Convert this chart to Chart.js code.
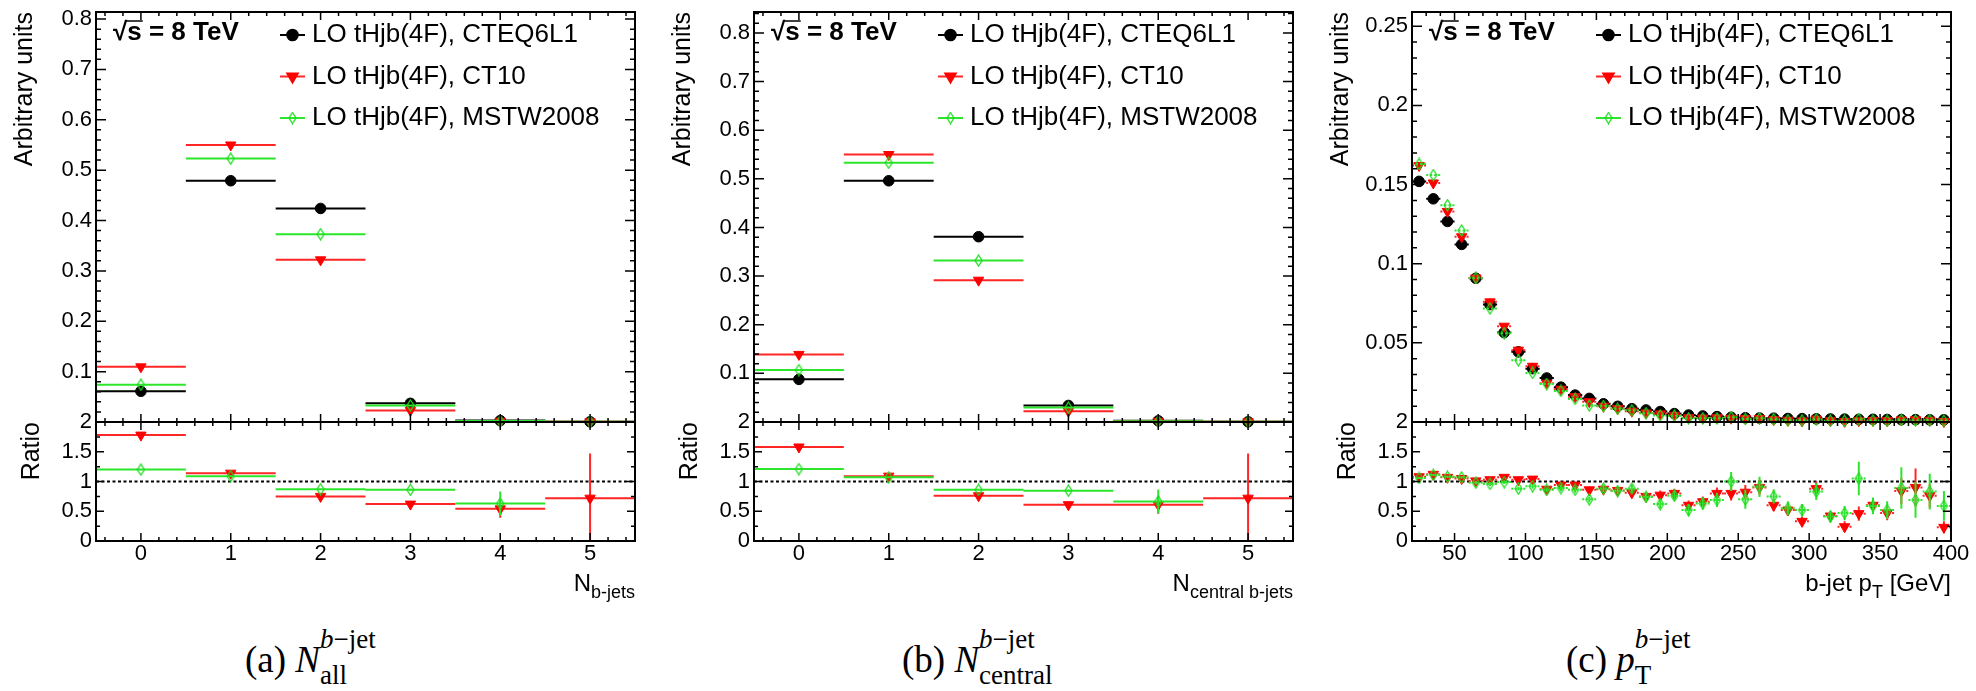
<!DOCTYPE html>
<html>
<head>
<meta charset="utf-8">
<title>tHjb b-jet distributions</title>
<script src="https://cdn.jsdelivr.net/npm/chart.js@4.4.1/dist/chart.umd.min.js"></script>
<style>
  html, body { margin: 0; padding: 0; background: #fff; }
  body { position: relative; width: 1976px; height: 691px; overflow: hidden;
         font-family: 'Liberation Sans', Arial, sans-serif; color: #000; }
  canvas { position: absolute; }
  .xtitle { position: absolute; font-size: 24px; line-height: 1; white-space: nowrap; }
  .xtitle sub { font-size: 18px; vertical-align: -7px; line-height: 0; }
  .caption { position: absolute; font-family: 'Liberation Serif', 'Times New Roman', serif;
             font-size: 37px; line-height: 1; white-space: nowrap; }
  .caption .ss { position: relative; display: inline-block; font-size: 27px; }
  .caption .sup { position: relative; top: -24px; }
  .caption .sub { position: absolute; left: 0; top: 12px; }
</style>
</head>
<body>
<canvas id="mainA" width="660" height="430" style="left:0px; top:0px"></canvas>
<canvas id="ratioA" width="660" height="220" style="left:0px; top:400px"></canvas>
<canvas id="mainB" width="660" height="430" style="left:658px; top:0px"></canvas>
<canvas id="ratioB" width="660" height="220" style="left:658px; top:400px"></canvas>
<canvas id="mainC" width="660" height="430" style="left:1316px; top:0px"></canvas>
<canvas id="ratioC" width="660" height="220" style="left:1316px; top:400px"></canvas>

<div class="xtitle" style="right:1341px; top:571px">N<sub>b-jets</sub></div>
<div class="xtitle" style="right:683px; top:571px">N<sub>central b-jets</sub></div>
<div class="xtitle" style="right:25px; top:571px">b-jet p<sub>T</sub> [GeV]</div>

<div class="caption" style="left:245px; top:641px">(a) <i>N</i><span class="ss"><span class="sup"><i>b</i>−jet</span><span class="sub">all</span></span></div>
<div class="caption" style="left:902px; top:641px">(b) <i>N</i><span class="ss"><span class="sup"><i>b</i>−jet</span><span class="sub">central</span></span></div>
<div class="caption" style="left:1566px; top:641px">(c) <i>p</i><span class="ss"><span class="sup"><i>b</i>−jet</span><span class="sub">T</span></span></div>

<script>
const FONT = "'Liberation Sans', Arial, sans-serif";

// ---- (a) number of b-jets
const nJets = [0, 1, 2, 3, 4, 5];
const allCteq = [0.061, 0.479, 0.424, 0.037, 0.0028, 0.0005];
const allCt10 = [0.1095, 0.550, 0.322, 0.023, 0.0015, 0.0004];
const allMstw = [0.074, 0.523, 0.373, 0.033, 0.0018, 0.0004];
const allRatioCt10 = [1.78, 1.14, 0.75, 0.62, 0.54, 0.72];
const allRatioCt10Err = [0.01, 0.01, 0.01, 0.02, 0.15, 0.75];
const allRatioMstw = [1.20, 1.09, 0.87, 0.86, 0.63, null];
const allRatioMstwErr = [0.01, 0.01, 0.01, 0.02, 0.20, 0];

// ---- (b) number of central b-jets
const centralCteq = [0.0877, 0.496, 0.381, 0.034, 0.0025, 0.0005];
const centralCt10 = [0.139, 0.550, 0.2916, 0.022, 0.0015, 0.0004];
const centralMstw = [0.1068, 0.533, 0.332, 0.0296, 0.0017, 0.0004];
const centralRatioCt10 = [1.58, 1.09, 0.76, 0.61, 0.61, 0.72];
const centralRatioCt10Err = [0.01, 0.01, 0.01, 0.02, 0.15, 0.75];
const centralRatioMstw = [1.21, 1.07, 0.86, 0.845, 0.665, null];
const centralRatioMstwErr = [0.01, 0.01, 0.01, 0.02, 0.20, 0];

// ---- (c) b-jet pT, 10 GeV bins
const ptBins = [25, 35, 45, 55, 65, 75, 85, 95, 105, 115, 125, 135, 145, 155, 165, 175, 185, 195, 205,
  215, 225, 235, 245, 255, 265, 275, 285, 295, 305, 315, 325, 335, 345, 355, 365, 375, 385, 395];
const ptCteq = [0.152, 0.141, 0.1267, 0.1122, 0.0908, 0.0742, 0.0565, 0.0443, 0.0337, 0.0278,
  0.0220, 0.0170, 0.0149, 0.0115, 0.0099, 0.0084, 0.0076, 0.0066, 0.0053, 0.0044,
  0.0038, 0.0034, 0.0030, 0.0027, 0.0025, 0.0024, 0.0022, 0.0021, 0.0020, 0.0019,
  0.0018, 0.0017, 0.0017, 0.0016, 0.0015, 0.0015, 0.0014, 0.0014];
const ptCt10 = [0.162, 0.151, 0.133, 0.117, 0.091, 0.0759, 0.0605, 0.0454, 0.0352, 0.0245,
  0.0207, 0.0160, 0.0128, 0.0100, 0.0084, 0.0068, 0.0057, 0.0051, 0.0042, 0.0027,
  0.0025, 0.0027, 0.0024, 0.0022, 0.0022, 0.0015, 0.0011, 0.0007, 0.0018, 0.0008,
  0.0004, 0.0008, 0.0010, 0.0008, 0.0013, 0.0014, 0.0011, 0.0003];
const ptMstw = [0.163, 0.156, 0.137, 0.121, 0.091, 0.0717, 0.0561, 0.0390, 0.0310, 0.0240,
  0.0196, 0.0146, 0.0104, 0.0101, 0.0083, 0.0074, 0.0056, 0.0041, 0.0040, 0.0023,
  0.0024, 0.0023, 0.0030, 0.0019, 0.0023, 0.0018, 0.0012, 0.0011, 0.0017, 0.0008,
  0.0008, 0.0018, 0.0010, 0.0008, 0.0013, 0.0010, 0.0012, 0.0008];
const ptRatioCt10 = [1.08, 1.12, 1.07, 1.05, 1.01, 1.03, 1.07, 1.03, 1.04, 0.87,
  0.94, 0.94, 0.86, 0.87, 0.85, 0.81, 0.75, 0.77, 0.80, 0.60,
  0.66, 0.80, 0.80, 0.82, 0.90, 0.60, 0.52, 0.33, 0.88, 0.42,
  0.24, 0.46, 0.60, 0.47, 0.84, 0.90, 0.76, 0.23];
const ptRatioCt10Err = [0.02, 0.02, 0.02, 0.02, 0.02, 0.03, 0.03, 0.03, 0.04, 0.04,
  0.05, 0.05, 0.05, 0.06, 0.06, 0.07, 0.07, 0.08, 0.08, 0.08,
  0.09, 0.10, 0.12, 0.12, 0.13, 0.10, 0.10, 0.08, 0.12, 0.08,
  0.09, 0.12, 0.12, 0.12, 0.22, 0.32, 0.20, 0.10];
const ptRatioMstw = [1.06, 1.11, 1.08, 1.07, 0.98, 0.96, 0.99, 0.88, 0.92, 0.86,
  0.89, 0.86, 0.70, 0.88, 0.84, 0.88, 0.74, 0.62, 0.76, 0.52,
  0.63, 0.69, 1.00, 0.70, 0.91, 0.75, 0.55, 0.52, 0.83, 0.41,
  0.47, 1.05, 0.59, 0.52, 0.89, 0.69, 0.83, 0.59];
const ptRatioMstwErr = [0.02, 0.02, 0.02, 0.02, 0.03, 0.03, 0.03, 0.03, 0.04, 0.04,
  0.05, 0.05, 0.05, 0.06, 0.06, 0.07, 0.08, 0.08, 0.08, 0.10,
  0.10, 0.12, 0.16, 0.16, 0.17, 0.12, 0.12, 0.10, 0.14, 0.10,
  0.12, 0.28, 0.14, 0.15, 0.35, 0.30, 0.30, 0.25];

// ---- axis ticks
const nTicks = [0, 1, 2, 3, 4, 5];
const ptTicks = [50, 100, 150, 200, 250, 300, 350, 400];
const countYTicks = [0.1, 0.2, 0.3, 0.4, 0.5, 0.6, 0.7, 0.8];
const ptYTicks = [0.05, 0.1, 0.15, 0.2, 0.25];
const ratioTicks = [0, 0.5, 1, 1.5, 2];

const legendLabels = ['LO tHjb(4F), CTEQ6L1', 'LO tHjb(4F), CT10', 'LO tHjb(4F), MSTW2008'];

// open diamond marker (ROOT style 27)
const diamond = document.createElement('canvas');
diamond.width = 9; diamond.height = 13;
(function () {
  const c = diamond.getContext('2d');
  c.strokeStyle = '#1fdc1f';
  c.lineWidth = 1.3;
  c.beginPath();
  c.moveTo(4.5, 1); c.lineTo(8, 6.5); c.lineTo(4.5, 12); c.lineTo(1, 6.5); c.closePath();
  c.stroke();
})();

const series = [
  { line: '#000000', fill: '#000000', style: 'circle', radius: 5.3, rotation: 0, order: 3 },
  { line: '#ff2626', fill: '#ff0000', style: 'triangle', radius: 6, rotation: 180, order: 2 },
  { line: '#2be62b', fill: '#22dd22', style: diamond, radius: 5, rotation: 0, order: 1 }
];

function stepLines(xs, ys, half) {
  const pts = [];
  xs.forEach((x, i) => {
    if (ys[i] == null) return;
    pts.push({ x: x - half, y: ys[i] }, { x: x + half, y: ys[i] }, { x: x + half, y: null });
  });
  return pts;
}

function errBars(xs, ys, errs) {
  const pts = [];
  xs.forEach((x, i) => {
    if (ys[i] == null || !errs[i]) return;
    pts.push({ x: x, y: ys[i] - errs[i] }, { x: x, y: ys[i] + errs[i] }, { x: x, y: null });
  });
  return pts;
}

function points(xs, ys) {
  return xs.map((x, i) => ({ x: x, y: ys[i] })).filter(p => p.y != null);
}

function lineSet(data, color, dash, order) {
  return { data: data, showLine: true, pointRadius: 0, borderColor: color, borderWidth: 2,
           borderDash: dash, spanGaps: false, order: order };
}

function markerSet(data, s, order) {
  return { data: data, showLine: false, pointStyle: s.style, pointRadius: s.radius,
           pointRotation: s.rotation, pointBackgroundColor: s.fill, pointBorderColor: s.fill,
           pointBorderWidth: 1, clip: false, order: order };
}

function mainDatasets(xs, values, half, dashed) {
  const ds = [];
  series.forEach((s, i) => {
    ds.push(lineSet(stepLines(xs, values[i], half), s.line, (dashed && i > 0) ? [2, 2] : [], s.order * 3));
    ds.push(markerSet(points(xs, values[i]), s, s.order * 3 - 1));
  });
  return ds;
}

function ratioDatasets(xs, ratios, errs, half, dashed) {
  const ds = [];
  [1, 2].forEach((k, j) => {
    const s = series[k];
    ds.push(lineSet(stepLines(xs, ratios[j], half), s.line, dashed ? [2, 2] : [], s.order * 3));
    ds.push(lineSet(errBars(xs, ratios[j], errs[j]), s.line, [], s.order * 3));
    ds.push(markerSet(points(xs, ratios[j]), s, s.order * 3 - 1));
  });
  return ds;
}

// decoration settings per canvas: ROOT style frame, inward ticks, legend
const frames = {};

function isMajor(v, step) {
  return Math.abs(v / step - Math.round(v / step)) < 1e-6;
}

const rootFrame = {
  id: 'rootFrame',
  beforeDatasetsDraw(chart) {
    const f = frames[chart.canvas.id];
    if (!f.unity) return;
    const { ctx, chartArea: a, scales: { y } } = chart;
    const py = y.getPixelForValue(1);
    ctx.save();
    ctx.strokeStyle = '#000';
    ctx.lineWidth = 2;
    ctx.setLineDash([3, 2.5]);
    ctx.beginPath();
    ctx.moveTo(a.left, py);
    ctx.lineTo(a.right, py);
    ctx.stroke();
    ctx.restore();
  },
  afterDraw(chart) {
    const f = frames[chart.canvas.id];
    const { ctx, chartArea: a, scales: { x, y } } = chart;
    ctx.save();
    ctx.strokeStyle = '#000';
    ctx.lineWidth = 1.5;
    ctx.beginPath();
    for (let k = Math.ceil(x.min / f.xMinor - 1e-6); k * f.xMinor <= x.max + 1e-6; k++) {
      const v = k * f.xMinor;
      const len = isMajor(v, f.xMajor) ? f.xLen : f.xLen / 2;
      const px = x.getPixelForValue(v);
      ctx.moveTo(px, a.bottom); ctx.lineTo(px, a.bottom - len);
      ctx.moveTo(px, a.top); ctx.lineTo(px, a.top + len);
    }
    for (let k = Math.ceil(y.min / f.yMinor - 1e-6); k * f.yMinor <= y.max + 1e-6; k++) {
      const v = k * f.yMinor;
      const len = isMajor(v, f.yMajor) ? f.yLen : f.yLen / 2;
      const py = y.getPixelForValue(v);
      ctx.moveTo(a.left, py); ctx.lineTo(a.left + len, py);
      ctx.moveTo(a.right, py); ctx.lineTo(a.right - len, py);
    }
    ctx.stroke();
    ctx.lineWidth = 2;
    ctx.strokeRect(a.left, a.top, a.right - a.left, a.bottom - a.top);

    if (f.legend) {
      ctx.fillStyle = '#000';
      ctx.textBaseline = 'middle';
      ctx.font = 'bold 26px ' + FONT;
      const sx = a.left + 17, sy = a.top + 21;
      ctx.fillText('√s = 8 TeV', sx, sy);
      const wr = ctx.measureText('√').width, ws = ctx.measureText('s').width;
      ctx.lineWidth = 1.5;
      ctx.beginPath();
      ctx.moveTo(sx + wr - 1, sy - 12);
      ctx.lineTo(sx + wr + ws + 1, sy - 12);
      ctx.stroke();

      ctx.font = '26px ' + FONT;
      legendLabels.forEach((label, i) => {
        const s = series[i];
        const ly = a.top + 23 + i * 41.5;
        const x0 = a.left + 184, x1 = a.left + 209;
        ctx.strokeStyle = s.line;
        ctx.lineWidth = 2;
        ctx.beginPath();
        ctx.moveTo(x0, ly); ctx.lineTo(x1, ly);
        ctx.stroke();
        ctx.fillStyle = s.fill;
        ctx.strokeStyle = s.fill;
        Chart.helpers.drawPoint(ctx, { pointStyle: s.style, radius: s.radius, rotation: s.rotation, borderWidth: 1 },
          (x0 + x1) / 2, ly);
        ctx.fillStyle = '#000';
        ctx.fillText(label, a.left + 216, ly);
      });
    }
    ctx.restore();
  }
};

function makeChart(id, datasets, o) {
  frames[id] = o.frame;
  const tickFont = { family: FONT, size: 22 };
  return new Chart(document.getElementById(id), {
    type: 'scatter',
    data: { datasets: datasets },
    options: {
      responsive: false,
      animation: false,
      events: [],
      layout: { padding: { top: o.padTop, right: 25, bottom: 0, left: 0 } },
      plugins: { legend: { display: false }, tooltip: { enabled: false } },
      scales: {
        x: {
          type: 'linear', min: o.xMin, max: o.xMax, bounds: 'data',
          grid: { display: false, drawTicks: false },
          border: { display: false },
          ticks: { display: o.xLabels, font: tickFont, color: '#000', padding: 0,
                   maxRotation: 0, autoSkip: false },
          afterBuildTicks: s => { s.ticks = o.xTicks.map(v => ({ value: v })); },
          afterFit: s => { s.height = o.xHeight; s.paddingLeft = 0; s.paddingRight = 0; }
        },
        y: {
          type: 'linear', min: 0, max: o.yMax, bounds: 'data',
          grid: { display: false, drawTicks: false },
          border: { display: false },
          ticks: { font: tickFont, color: '#000', padding: 4, autoSkip: false,
                   callback: v => String(Math.round(v * 1000) / 1000) },
          title: { display: true, text: o.yTitle, align: 'end', color: '#000',
                   font: { family: FONT, size: 25, lineHeight: 1.2 },
                   padding: { top: o.yTitlePad, bottom: 0 } },
          afterBuildTicks: s => { s.ticks = o.yTicks.map(v => ({ value: v })); },
          afterFit: s => { s.width = 96; s.paddingTop = 0; s.paddingBottom = 0; }
        }
      }
    },
    plugins: [rootFrame]
  });
}

function mainChart(id, xs, values, half, dashed, ax) {
  makeChart(id, mainDatasets(xs, values, half, dashed), {
    padTop: 12, xHeight: 8, xLabels: false, xMin: ax.xMin, xMax: ax.xMax, xTicks: ax.xTicks,
    yMax: ax.yMax, yTicks: ax.yTicks, yTitle: 'Arbitrary units', yTitlePad: 10,
    frame: { xMinor: ax.xMinor, xMajor: ax.xMajor, xLen: 8, yMinor: ax.yMinor, yMajor: ax.yMajor,
             yLen: 10, legend: true, unity: false }
  });
}

function ratioChart(id, xs, ratios, errs, half, dashed, ax) {
  makeChart(id, ratioDatasets(xs, ratios, errs, half, dashed), {
    padTop: 22, xHeight: 79, xLabels: true, xMin: ax.xMin, xMax: ax.xMax, xTicks: ax.xTicks,
    yMax: 2, yTicks: ratioTicks, yTitle: 'Ratio', yTitlePad: 17,
    frame: { xMinor: ax.xMinor, xMajor: ax.xMajor, xLen: 8, yMinor: 0.25, yMajor: 0.5,
             yLen: 8, legend: false, unity: true }
  });
}

const axA = { xMin: -0.5, xMax: 5.5, xTicks: nTicks, xMinor: 0.2, xMajor: 1,
              yMax: 0.814, yTicks: countYTicks, yMinor: 0.02, yMajor: 0.1 };
const axB = Object.assign({}, axA, { yMax: 0.843 });
const axC = { xMin: 20, xMax: 400, xTicks: ptTicks, xMinor: 10, xMajor: 50,
              yMax: 0.259, yTicks: ptYTicks, yMinor: 0.01, yMajor: 0.05 };

mainChart('mainA', nJets, [allCteq, allCt10, allMstw], 0.5, false, axA);
ratioChart('ratioA', nJets, [allRatioCt10, allRatioMstw], [allRatioCt10Err, allRatioMstwErr], 0.5, false, axA);
mainChart('mainB', nJets, [centralCteq, centralCt10, centralMstw], 0.5, false, axB);
ratioChart('ratioB', nJets, [centralRatioCt10, centralRatioMstw], [centralRatioCt10Err, centralRatioMstwErr], 0.5, false, axB);
mainChart('mainC', ptBins, [ptCteq, ptCt10, ptMstw], 5, true, axC);
ratioChart('ratioC', ptBins, [ptRatioCt10, ptRatioMstw], [ptRatioCt10Err, ptRatioMstwErr], 5, true, axC);
</script>
</body>
</html>
